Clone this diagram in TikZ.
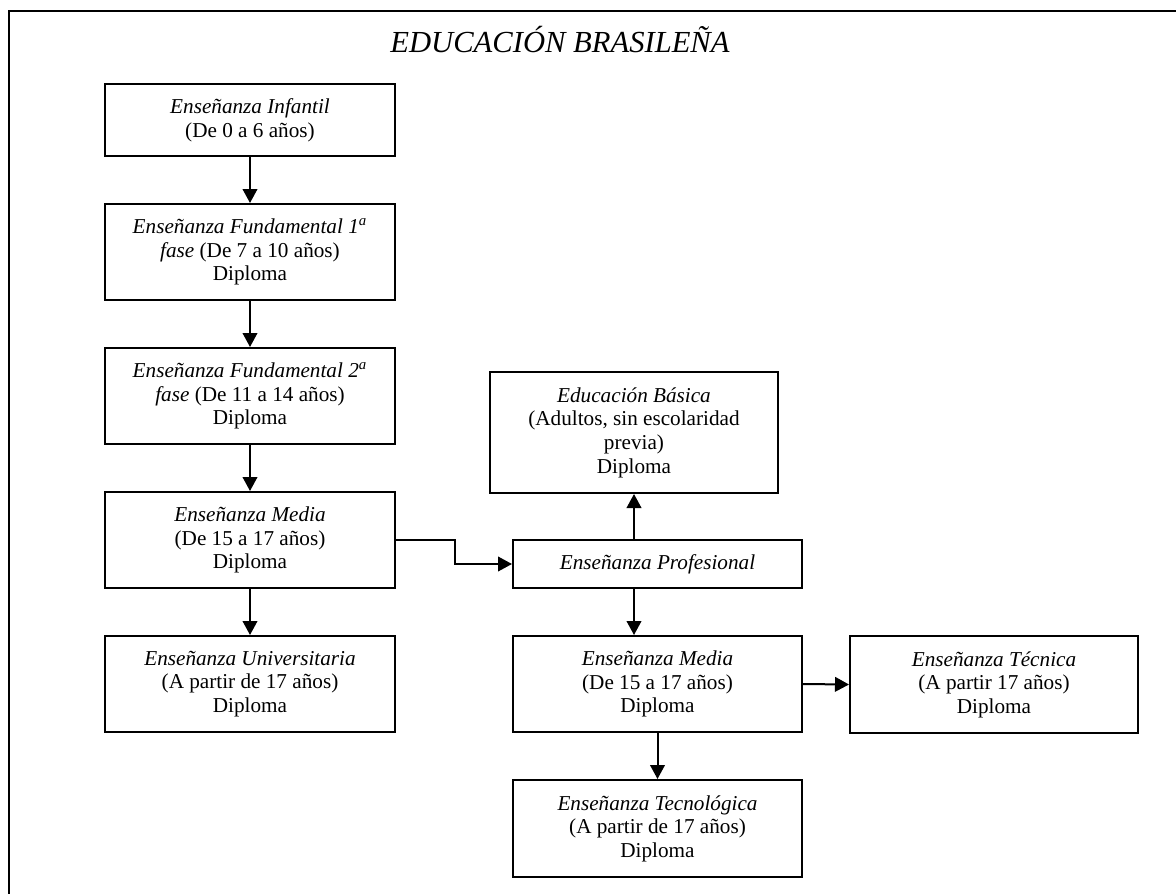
\documentclass[tikz,border=0pt]{standalone}
\usepackage{fontspec}
\setmainfont{Liberation Serif}
\usetikzlibrary{arrows.meta}
\begin{document}
\begin{tikzpicture}[x=0.5pt,y=-0.5pt,
  box/.style={draw,line width=1pt,inner sep=0pt,align=center,
    font=\fontsize{10.6}{11.8}\selectfont},
  flow/.style={line width=1pt,-{Triangle[length=7pt,width=7.3pt]}},
  frameline/.style={line width=1pt}]
\useasboundingbox (0,0) rectangle (1176,894);
% outer frame (top and left edges)
\draw[frameline] (1176,11) -- (9,11) -- (9,894);
% title
\node[font=\fontsize{15.3}{18}\selectfont\itshape] (title) at (560,40) {EDUCACIÓN BRASILEÑA};
% left column
\node[box,minimum width=145pt,minimum height=36pt] (inf) at (250,120)
  {\textit{Enseñanza Infantil}\\(De 0 a 6 años)};
\node[box,minimum width=145pt,minimum height=48pt] (f1) at (250,252)
  {\textit{Enseñanza Fundamental 1\textsuperscript{a}}\\\textit{fase} (De 7 a 10 años)\\Diploma};
\node[box,minimum width=145pt,minimum height=48pt] (f2) at (250,396)
  {\textit{Enseñanza Fundamental 2\textsuperscript{a}}\\\textit{fase} (De 11 a 14 años)\\Diploma};
\node[box,minimum width=145pt,minimum height=48pt] (media) at (250,540)
  {\textit{Enseñanza Media}\\(De 15 a 17 años)\\Diploma};
\node[box,minimum width=145pt,minimum height=48pt] (univ) at (250,684)
  {\textit{Enseñanza Universitaria}\\(A partir de 17 años)\\Diploma};
% right part
\node[box,minimum width=144pt,minimum height=60.5pt] (basica) at (634,432.5)
  {\textit{Educación Básica}\\(Adultos, sin escolaridad\\previa)\\Diploma};
\node[box,minimum width=144.5pt,minimum height=24pt] (prof) at (657.5,564)
  {\textit{Enseñanza Profesional}};
\node[box,minimum width=144.5pt,minimum height=48pt] (mediar) at (657.5,684)
  {\textit{Enseñanza Media}\\(De 15 a 17 años)\\Diploma};
\node[box,minimum width=144pt,minimum height=48.5pt] (tec) at (994,684.5)
  {\textit{Enseñanza Técnica}\\(A partir 17 años)\\Diploma};
\node[box,minimum width=144.5pt,minimum height=48.5pt] (tecno) at (657.5,828.5)
  {\textit{Enseñanza Tecnológica}\\(A partir de 17 años)\\Diploma};
% connectors
\draw[flow] (inf) -- (f1);
\draw[flow] (f1) -- (f2);
\draw[flow] (f2) -- (media);
\draw[flow] (media) -- (univ);
\draw[flow] (media.east) -- ++(59,0) |- (prof.west);
\draw[flow] (prof.north -| basica.south) -- (basica.south);
\draw[flow] (prof.south -| basica.south) -- (mediar.north -| basica.south);
\draw[flow] (mediar.east) -- (tec.west);
\draw[flow] (mediar) -- (tecno);
\end{tikzpicture}
\end{document}
